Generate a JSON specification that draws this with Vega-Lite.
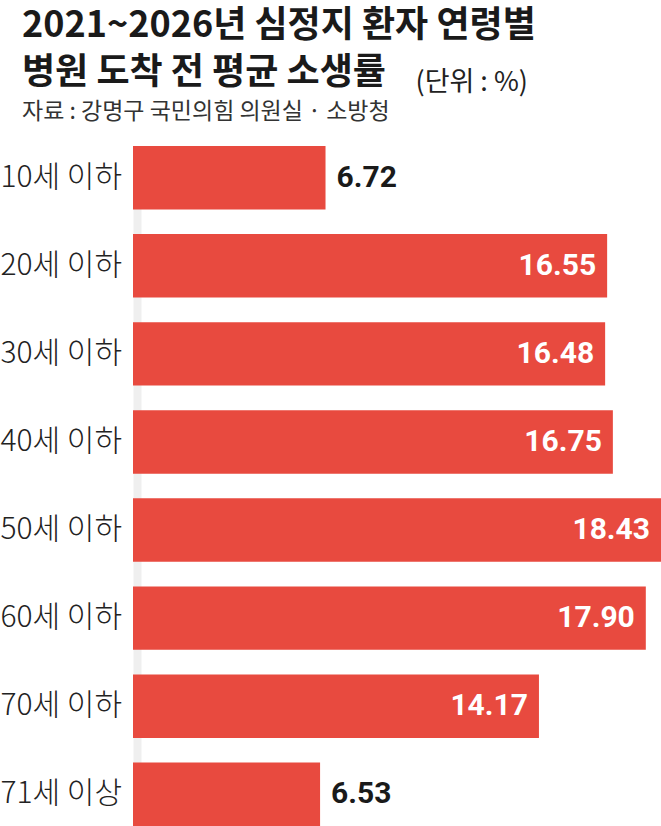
{
  "$schema": "https://vega.github.io/schema/vega-lite/v6.json",
  "autosize": "none",
  "padding": {"left": 133, "top": 146, "right": 0, "bottom": 0},
  "width": 528,
  "height": 680,
  "background": "white",
  "title": {
    "text": ["2021~2026년 심정지 환자 연령별", "병원 도착 전 평균 소생률"],
    "subtitle": "자료 : 강명구 국민의힘 의원실 · 소방청",
    "anchor": "start",
    "frame": "group",
    "dx": -111,
    "offset": -57,
    "font": "Noto Sans CJK KR",
    "fontSize": 36,
    "fontWeight": "bold",
    "color": "#1a1a1a",
    "lineHeight": 47,
    "subtitleFont": "Noto Sans CJK KR",
    "subtitleFontSize": 23,
    "subtitleColor": "#333333",
    "subtitlePadding": 9
  },
  "data": {
    "values": [
      {"age": "10세 이하", "rate": 6.72},
      {"age": "20세 이하", "rate": 16.55},
      {"age": "30세 이하", "rate": 16.48},
      {"age": "40세 이하", "rate": 16.75},
      {"age": "50세 이하", "rate": 18.43},
      {"age": "60세 이하", "rate": 17.90},
      {"age": "70세 이하", "rate": 14.17},
      {"age": "71세 이상", "rate": 6.53}
    ]
  },
  "encoding": {
    "y": {
      "field": "age", "type": "nominal", "sort": null,
      "scale": {"paddingInner": 0.28, "paddingOuter": 0},
      "axis": {
        "title": null, "ticks": false, "offset": -4,
        "domainColor": "#efefef", "domainWidth": 8,
        "labelAlign": "left", "labelPadding": 137,
        "labelFont": "Noto Sans CJK KR", "labelFontSize": 30,
        "labelFontWeight": 300, "labelColor": "#222222"
      }
    },
    "x": {
      "field": "rate", "type": "quantitative",
      "scale": {"domain": [0, 18.43], "nice": false, "zero": true},
      "axis": {
        "orient": "top", "grid": false, "labels": false, "ticks": false, "domain": false,
        "title": "(단위 : %)", "titleX": 282, "titleY": -56,
        "titleAlign": "left", "titleAnchor": null, "titleBaseline": "alphabetic",
        "titleFont": "Noto Sans CJK KR", "titleFontSize": 27, "titleFontWeight": "normal",
        "titleColor": "#222222"
      }
    }
  },
  "layer": [
    {"mark": {"type": "bar", "color": "#e84a3f"}},
    {
      "transform": [{"filter": "datum.rate >= 10"}],
      "mark": {"type": "text", "align": "right", "dx": -11, "font": "Roboto", "fontSize": 30, "fontWeight": "bold", "color": "white"},
      "encoding": {"text": {"field": "rate", "format": ".2f"}}
    },
    {
      "transform": [{"filter": "datum.rate < 10"}],
      "mark": {"type": "text", "align": "left", "dx": 11, "font": "Roboto", "fontSize": 30, "fontWeight": "bold", "color": "#1a1a1a"},
      "encoding": {"text": {"field": "rate", "format": ".2f"}}
    }
  ],
  "config": {"view": {"stroke": null}}
}
